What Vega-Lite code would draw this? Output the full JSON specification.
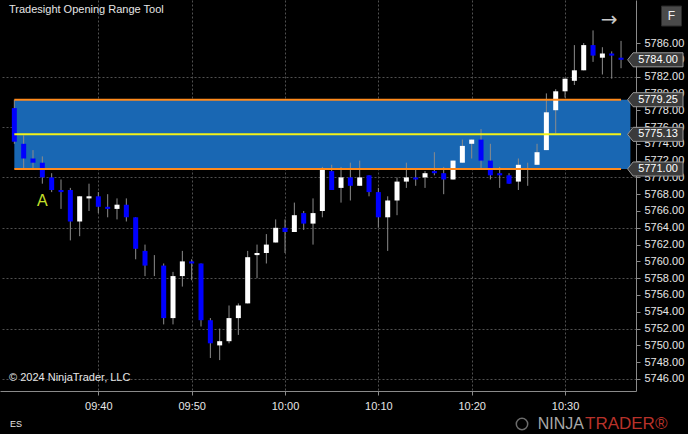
{
  "$schema": "https://vega.github.io/schema/vega-lite/v6.json",
  "width": 636,
  "height": 391,
  "autosize": {"type": "none"},
  "padding": {"left": 0, "top": 0, "right": 52, "bottom": 43},
  "background": "#000000",
  "config": {
    "view": {"stroke": null},
    "axis": {
      "labelFont": "Liberation Sans",
      "labelColor": "#e6e6e6",
      "labelFontSize": 11,
      "domainColor": "#8a8a8a",
      "tickColor": "#8a8a8a",
      "tickSize": 4,
      "gridColor": "#505050",
      "gridDash": [2, 2],
      "gridWidth": 1
    },
    "text": {"font": "Liberation Sans"}
  },
  "datasets": {
    "bars": [
      {"time": "2024-10-01T09:31", "open": 5778.25, "high": 5779.25, "low": 5774.0, "close": 5774.25},
      {"time": "2024-10-01T09:32", "open": 5774.0, "high": 5775.0, "low": 5771.0, "close": 5772.25},
      {"time": "2024-10-01T09:33", "open": 5772.25, "high": 5773.25, "low": 5771.0, "close": 5771.75},
      {"time": "2024-10-01T09:34", "open": 5771.75, "high": 5772.5, "low": 5769.25, "close": 5770.0},
      {"time": "2024-10-01T09:35", "open": 5770.0, "high": 5770.5, "low": 5768.25, "close": 5768.5},
      {"time": "2024-10-01T09:36", "open": 5768.5, "high": 5769.75, "low": 5766.25, "close": 5768.25},
      {"time": "2024-10-01T09:37", "open": 5768.5, "high": 5768.75, "low": 5762.5, "close": 5764.75},
      {"time": "2024-10-01T09:38", "open": 5764.75, "high": 5767.75, "low": 5763.0, "close": 5767.75},
      {"time": "2024-10-01T09:39", "open": 5767.5, "high": 5769.25, "low": 5766.0, "close": 5767.75},
      {"time": "2024-10-01T09:40", "open": 5767.75, "high": 5768.25, "low": 5765.75, "close": 5766.5},
      {"time": "2024-10-01T09:41", "open": 5766.5, "high": 5768.0, "low": 5765.25, "close": 5766.25},
      {"time": "2024-10-01T09:42", "open": 5766.25, "high": 5767.5, "low": 5765.0, "close": 5766.75},
      {"time": "2024-10-01T09:43", "open": 5766.75, "high": 5767.5, "low": 5764.75, "close": 5765.25},
      {"time": "2024-10-01T09:44", "open": 5765.25, "high": 5765.25, "low": 5760.25, "close": 5761.5},
      {"time": "2024-10-01T09:45", "open": 5761.25, "high": 5762.0, "low": 5758.25, "close": 5759.5},
      {"time": "2024-10-01T09:46", "open": 5759.5, "high": 5760.75, "low": 5758.25, "close": 5759.5},
      {"time": "2024-10-01T09:47", "open": 5759.5, "high": 5759.75, "low": 5752.5, "close": 5753.25},
      {"time": "2024-10-01T09:48", "open": 5753.25, "high": 5758.75, "low": 5752.5, "close": 5758.25},
      {"time": "2024-10-01T09:49", "open": 5758.25, "high": 5761.25, "low": 5757.0, "close": 5760.0},
      {"time": "2024-10-01T09:50", "open": 5760.0, "high": 5760.25, "low": 5757.75, "close": 5759.75},
      {"time": "2024-10-01T09:51", "open": 5759.75, "high": 5759.75, "low": 5752.25, "close": 5753.0},
      {"time": "2024-10-01T09:52", "open": 5753.0, "high": 5753.25, "low": 5748.5, "close": 5750.25},
      {"time": "2024-10-01T09:53", "open": 5750.0, "high": 5752.0, "low": 5748.25, "close": 5750.5},
      {"time": "2024-10-01T09:54", "open": 5750.5, "high": 5754.75, "low": 5750.25, "close": 5753.25},
      {"time": "2024-10-01T09:55", "open": 5753.25, "high": 5755.0, "low": 5751.25, "close": 5754.75},
      {"time": "2024-10-01T09:56", "open": 5755.0, "high": 5761.25, "low": 5755.0, "close": 5760.5},
      {"time": "2024-10-01T09:57", "open": 5760.75, "high": 5762.0, "low": 5758.0, "close": 5761.0},
      {"time": "2024-10-01T09:58", "open": 5761.0, "high": 5763.25, "low": 5759.75, "close": 5762.0},
      {"time": "2024-10-01T09:59", "open": 5762.25, "high": 5765.0, "low": 5762.25, "close": 5764.0},
      {"time": "2024-10-01T10:00", "open": 5764.0, "high": 5765.0, "low": 5761.0, "close": 5763.5},
      {"time": "2024-10-01T10:01", "open": 5763.5, "high": 5767.0, "low": 5763.5, "close": 5765.5},
      {"time": "2024-10-01T10:02", "open": 5765.75, "high": 5766.0, "low": 5763.75, "close": 5764.5},
      {"time": "2024-10-01T10:03", "open": 5764.5, "high": 5767.5, "low": 5762.0, "close": 5765.75},
      {"time": "2024-10-01T10:04", "open": 5766.0, "high": 5771.25, "low": 5765.25, "close": 5771.0},
      {"time": "2024-10-01T10:05", "open": 5770.75, "high": 5771.5, "low": 5768.5, "close": 5768.5},
      {"time": "2024-10-01T10:06", "open": 5768.75, "high": 5771.25, "low": 5767.0, "close": 5770.0},
      {"time": "2024-10-01T10:07", "open": 5770.0, "high": 5771.75, "low": 5767.25, "close": 5769.0},
      {"time": "2024-10-01T10:08", "open": 5769.0, "high": 5772.0, "low": 5769.0, "close": 5770.0},
      {"time": "2024-10-01T10:09", "open": 5770.25, "high": 5770.25, "low": 5767.75, "close": 5768.25},
      {"time": "2024-10-01T10:10", "open": 5768.25, "high": 5768.75, "low": 5764.0, "close": 5765.25},
      {"time": "2024-10-01T10:11", "open": 5765.25, "high": 5767.75, "low": 5761.25, "close": 5767.25},
      {"time": "2024-10-01T10:12", "open": 5767.25, "high": 5770.0, "low": 5765.5, "close": 5769.5},
      {"time": "2024-10-01T10:13", "open": 5769.5, "high": 5771.75, "low": 5768.75, "close": 5770.0},
      {"time": "2024-10-01T10:14", "open": 5770.0, "high": 5771.0, "low": 5769.0, "close": 5769.75},
      {"time": "2024-10-01T10:15", "open": 5770.0, "high": 5770.75, "low": 5768.75, "close": 5770.5},
      {"time": "2024-10-01T10:16", "open": 5770.75, "high": 5773.0, "low": 5770.25, "close": 5770.5},
      {"time": "2024-10-01T10:17", "open": 5770.5, "high": 5771.25, "low": 5768.0, "close": 5769.75},
      {"time": "2024-10-01T10:18", "open": 5769.75, "high": 5772.0, "low": 5769.75, "close": 5772.0},
      {"time": "2024-10-01T10:19", "open": 5771.75, "high": 5774.5, "low": 5771.75, "close": 5773.75},
      {"time": "2024-10-01T10:20", "open": 5774.0, "high": 5774.5, "low": 5772.25, "close": 5774.5},
      {"time": "2024-10-01T10:21", "open": 5774.5, "high": 5775.75, "low": 5771.0, "close": 5772.0},
      {"time": "2024-10-01T10:22", "open": 5772.0, "high": 5774.0, "low": 5769.75, "close": 5770.25},
      {"time": "2024-10-01T10:23", "open": 5770.5, "high": 5771.25, "low": 5768.75, "close": 5770.25},
      {"time": "2024-10-01T10:24", "open": 5770.25, "high": 5770.5, "low": 5769.25, "close": 5769.25},
      {"time": "2024-10-01T10:25", "open": 5769.5, "high": 5772.25, "low": 5768.5, "close": 5771.5},
      {"time": "2024-10-01T10:26", "open": 5771.5, "high": 5771.75, "low": 5769.0, "close": 5771.5},
      {"time": "2024-10-01T10:27", "open": 5771.5, "high": 5774.0, "low": 5771.5, "close": 5773.0},
      {"time": "2024-10-01T10:28", "open": 5773.25, "high": 5780.0, "low": 5773.25, "close": 5777.75},
      {"time": "2024-10-01T10:29", "open": 5778.0, "high": 5780.5, "low": 5775.25, "close": 5780.25},
      {"time": "2024-10-01T10:30", "open": 5780.25, "high": 5781.75, "low": 5779.5, "close": 5781.75},
      {"time": "2024-10-01T10:31", "open": 5781.5, "high": 5785.75, "low": 5781.0, "close": 5782.75},
      {"time": "2024-10-01T10:32", "open": 5782.75, "high": 5786.0, "low": 5782.75, "close": 5785.75},
      {"time": "2024-10-01T10:33", "open": 5785.75, "high": 5787.5, "low": 5783.75, "close": 5784.5},
      {"time": "2024-10-01T10:34", "open": 5784.25, "high": 5785.5, "low": 5782.25, "close": 5784.75},
      {"time": "2024-10-01T10:35", "open": 5784.75, "high": 5785.0, "low": 5781.75, "close": 5784.5},
      {"time": "2024-10-01T10:36", "open": 5784.25, "high": 5786.25, "low": 5783.0, "close": 5784.0}
    ],
    "range": [
      {"start": "2024-10-01T09:31", "end": "2024-10-01T10:37", "low": 5771.0, "high": 5779.25}
    ],
    "rangeLines": [
      {"line": "high", "start": "2024-10-01T09:31", "end": "2024-10-01T10:36", "price": 5779.25},
      {"line": "mid", "start": "2024-10-01T09:31", "end": "2024-10-01T10:36", "price": 5775.125},
      {"line": "low", "start": "2024-10-01T09:31", "end": "2024-10-01T10:36", "price": 5771.0}
    ],
    "priceMarkers": [
      {"name": "last", "price": 5784.0},
      {"name": "high", "price": 5779.25},
      {"name": "mid", "price": 5775.125},
      {"name": "low", "price": 5771.0}
    ],
    "notes": [
      {"time": "2024-10-01T09:34", "price": 5767.2, "label": "A"}
    ]
  },
  "layer": [
    {
      "data": {"name": "range"},
      "mark": {"type": "rect", "color": "#1967b3"},
      "encoding": {
        "x": {
          "field": "start", "type": "temporal",
          "scale": {"domain": [
            {"year": 2024, "month": 10, "date": 1, "hours": 9, "minutes": 30, "seconds": 0},
            {"year": 2024, "month": 10, "date": 1, "hours": 10, "minutes": 37, "seconds": 4}
          ], "nice": false},
          "axis": {
            "title": null,
            "orient": "bottom",
            "format": "%H:%M",
            "values": [
              {"year": 2024, "month": 10, "date": 1, "hours": 9, "minutes": 40},
              {"year": 2024, "month": 10, "date": 1, "hours": 9, "minutes": 50},
              {"year": 2024, "month": 10, "date": 1, "hours": 10, "minutes": 0},
              {"year": 2024, "month": 10, "date": 1, "hours": 10, "minutes": 10},
              {"year": 2024, "month": 10, "date": 1, "hours": 10, "minutes": 20},
              {"year": 2024, "month": 10, "date": 1, "hours": 10, "minutes": 30}
            ],
            "tickCount": 20,
            "grid": true,
            "labelPadding": 5,
            "labelFlush": false,
            "labelOverlap": false
          }
        },
        "x2": {"field": "end"},
        "y": {
          "field": "low", "type": "quantitative",
          "scale": {"domain": [5744.57, 5791.12], "nice": false, "zero": false},
          "axis": {
            "title": null,
            "orient": "right",
            "format": ".2f",
            "values": [5746, 5748, 5750, 5752, 5754, 5756, 5758, 5760, 5762, 5764, 5766, 5768, 5770, 5772, 5774, 5776, 5778, 5780, 5782, 5784, 5786],
            "tickCount": 30,
            "grid": true,
            "gridOpacity": {"condition": {"test": "datum.value % 6 === 4", "value": 1}, "value": 0},
            "labelPadding": 4,
            "labelFlush": false,
            "labelOverlap": false
          }
        },
        "y2": {"field": "high"}
      }
    },
    {
      "data": {"name": "bars"},
      "mark": {"type": "rule", "color": "#8c8c8c", "strokeWidth": 1},
      "encoding": {
        "x": {"field": "time", "type": "temporal"},
        "y": {"field": "low", "type": "quantitative"},
        "y2": {"field": "high"}
      }
    },
    {
      "data": {"name": "bars"},
      "mark": {"type": "bar", "size": 5},
      "encoding": {
        "x": {"field": "time", "type": "temporal"},
        "y": {"field": "open", "type": "quantitative"},
        "y2": {"field": "close"},
        "color": {"condition": {"test": "datum.close >= datum.open", "value": "#ffffff"}, "value": "#0000ff"}
      }
    },
    {
      "data": {"name": "rangeLines"},
      "mark": {"type": "rule", "strokeWidth": 2},
      "encoding": {
        "x": {"field": "start", "type": "temporal"},
        "x2": {"field": "end"},
        "y": {"field": "price", "type": "quantitative"},
        "color": {"field": "line", "type": "nominal", "legend": null,
          "scale": {"domain": ["high", "mid", "low"], "range": ["#ff8a1c", "#f2f21a", "#ff8a1c"]}}
      }
    },
    {
      "data": {"name": "notes"},
      "mark": {"type": "text", "fontSize": 16, "color": "#c6e02a", "align": "center", "baseline": "middle"},
      "encoding": {
        "x": {"field": "time", "type": "temporal"},
        "y": {"field": "price", "type": "quantitative"},
        "text": {"field": "label"}
      }
    },
    {
      "data": {"name": "priceMarkers"},
      "mark": {"type": "point", "shape": "M-0.13,0L0.08,-0.27L2,-0.27L2,0.27L0.08,0.27Z", "size": 2704, "filled": true, "fill": "#3b3b3b", "stroke": "#9a9a9a", "strokeWidth": 1, "opacity": 1},
      "encoding": {
        "x": {"datum": {"year": 2024, "month": 10, "date": 1, "hours": 10, "minutes": 37, "seconds": 4}, "type": "temporal"},
        "y": {"field": "price", "type": "quantitative"}
      }
    },
    {
      "data": {"name": "priceMarkers"},
      "mark": {"type": "text", "fontSize": 11, "color": "#ffffff", "align": "center", "baseline": "middle", "dx": 27},
      "encoding": {
        "x": {"datum": {"year": 2024, "month": 10, "date": 1, "hours": 10, "minutes": 37, "seconds": 4}, "type": "temporal"},
        "y": {"field": "price", "type": "quantitative"},
        "text": {"field": "price", "type": "quantitative", "format": ".2f"}
      }
    },
    {
      "data": {"values": [{"text": "Tradesight Opening Range Tool"}]},
      "mark": {"type": "text", "fontSize": 11, "color": "#e6e6e6", "align": "left", "baseline": "middle", "dx": 4},
      "encoding": {
        "x": {"datum": {"year": 2024, "month": 10, "date": 1, "hours": 9, "minutes": 30}, "type": "temporal"},
        "y": {"datum": 5789.93, "type": "quantitative"},
        "text": {"field": "text"}
      }
    },
    {
      "data": {"values": [{"text": "© 2024 NinjaTrader, LLC"}]},
      "mark": {"type": "text", "fontSize": 11, "color": "#e6e6e6", "align": "left", "baseline": "middle", "dx": 4},
      "encoding": {
        "x": {"datum": {"year": 2024, "month": 10, "date": 1, "hours": 9, "minutes": 30}, "type": "temporal"},
        "y": {"datum": 5746.12, "type": "quantitative"},
        "text": {"field": "text"}
      }
    },
    {
      "data": {"values": [{"text": "ES"}]},
      "mark": {"type": "text", "fontSize": 9, "color": "#e6e6e6", "align": "left", "baseline": "middle", "dx": 5},
      "encoding": {
        "x": {"datum": {"year": 2024, "month": 10, "date": 1, "hours": 9, "minutes": 30}, "type": "temporal"},
        "y": {"datum": 5740.64, "type": "quantitative"},
        "text": {"field": "text"}
      }
    },
    {
      "data": {"values": [{"text": "NINJA"}]},
      "mark": {"type": "text", "fontSize": 16, "color": "#a8a8a8", "align": "right", "baseline": "middle", "dx": -47},
      "encoding": {
        "x": {"datum": {"year": 2024, "month": 10, "date": 1, "hours": 10, "minutes": 37, "seconds": 4}, "type": "temporal"},
        "y": {"datum": 5740.64, "type": "quantitative"},
        "text": {"field": "text"}
      }
    },
    {
      "data": {"values": [{"text": "TRADER®"}]},
      "mark": {"type": "text", "fontSize": 17, "color": "#b8322a", "align": "left", "baseline": "middle", "dx": -46},
      "encoding": {
        "x": {"datum": {"year": 2024, "month": 10, "date": 1, "hours": 10, "minutes": 37, "seconds": 4}, "type": "temporal"},
        "y": {"datum": 5740.64, "type": "quantitative"},
        "text": {"field": "text"}
      }
    },
    {
      "data": {"values": [{"icon": "logo"}]},
      "mark": {"type": "point", "shape": "circle", "size": 130, "filled": false, "stroke": "#9a9a9a", "strokeWidth": 1.5, "xOffset": -109},
      "encoding": {
        "x": {"datum": {"year": 2024, "month": 10, "date": 1, "hours": 10, "minutes": 37, "seconds": 4}, "type": "temporal"},
        "y": {"datum": 5740.64, "type": "quantitative"}
      }
    },
    {
      "data": {"values": [{"icon": "F"}]},
      "mark": {"type": "point", "shape": "square", "size": 400, "filled": true, "fill": "#4a4a4a", "stroke": "#2a2a2a", "strokeWidth": 1, "opacity": 1, "xOffset": 40.5},
      "encoding": {
        "x": {"datum": {"year": 2024, "month": 10, "date": 1, "hours": 10, "minutes": 37, "seconds": 4}, "type": "temporal"},
        "y": {"datum": 5789.21, "type": "quantitative"}
      }
    },
    {
      "data": {"values": [{"text": "F"}]},
      "mark": {"type": "text", "fontSize": 12, "color": "#f0f0f0", "align": "center", "baseline": "middle", "dx": 40.5},
      "encoding": {
        "x": {"datum": {"year": 2024, "month": 10, "date": 1, "hours": 10, "minutes": 37, "seconds": 4}, "type": "temporal"},
        "y": {"datum": 5789.21, "type": "quantitative"},
        "text": {"field": "text"}
      }
    },
    {
      "data": {"values": [{"text": "→"}]},
      "mark": {"type": "text", "fontSize": 20, "font": "DejaVu Sans", "color": "#c8c8c8", "align": "center", "baseline": "middle", "dx": -22},
      "encoding": {
        "x": {"datum": {"year": 2024, "month": 10, "date": 1, "hours": 10, "minutes": 37, "seconds": 4}, "type": "temporal"},
        "y": {"datum": 5788.74, "type": "quantitative"},
        "text": {"field": "text"}
      }
    }
  ]
}
